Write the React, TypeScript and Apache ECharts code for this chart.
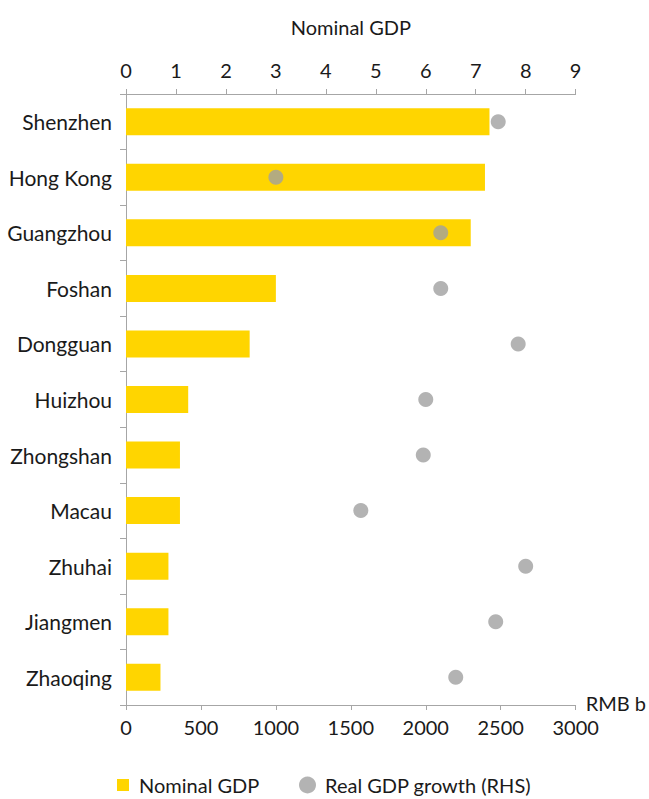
import React, { useEffect, useRef } from "react";
import * as echarts from "echarts";

const cities = [
  "Shenzhen",
  "Hong Kong",
  "Guangzhou",
  "Foshan",
  "Dongguan",
  "Huizhou",
  "Zhongshan",
  "Macau",
  "Zhuhai",
  "Jiangmen",
  "Zhaoqing",
];
const nominalGdp = [2425, 2395, 2300, 1000, 825, 415, 360, 360, 283, 283, 230];
const realGrowth = [7.45, 3.0, 6.3, 6.3, 7.85, 6.0, 5.95, 4.7, 8.0, 7.4, 6.6];
const bottomTicks = { min: 0, max: 3000, interval: 500 };
const topTicks = { min: 0, max: 9, interval: 1 };

const FONT = "Lato";
const AXIS = "#a6a6a6";
const TXT = "#1a1a1a";

export default function App() {
  const ref = useRef<HTMLDivElement>(null);
  useEffect(() => {
    if (!ref.current) return;
    const chart = echarts.init(ref.current, undefined, { renderer: "svg" });
    chart.setOption({
      animation: false,
      backgroundColor: "#ffffff",
      textStyle: { fontFamily: FONT, color: TXT },
      grid: { left: 126, right: 72, top: 94, bottom: 94, containLabel: false },
      legend: [
        {
          left: 112,
          top: 770,
          itemWidth: 12,
          itemHeight: 12,
          data: [{ name: "Nominal GDP", icon: "rect" }],
          textStyle: { fontFamily: FONT, fontSize: 20, color: TXT, padding: [0, 0, 0, 5] },
        },
        {
          left: 294,
          top: 770,
          itemWidth: 17,
          itemHeight: 17,
          data: [{ name: "Real GDP growth (RHS)", icon: "circle" }],
          textStyle: { fontFamily: FONT, fontSize: 20, color: TXT, padding: [0, 0, 0, 4] },
        },
      ],
      xAxis: [
        {
          type: "value",
          position: "bottom",
          min: bottomTicks.min,
          max: bottomTicks.max,
          interval: bottomTicks.interval,
          name: "RMB b",
          nameLocation: "end",
          nameGap: 10,
          nameTextStyle: { fontFamily: FONT, fontSize: 20, color: TXT, verticalAlign: "bottom", padding: [0, 0, -8, 0] },
          axisLine: { show: true, lineStyle: { color: AXIS, width: 1 } },
          axisTick: { show: true, length: 5, lineStyle: { color: AXIS } },
          axisLabel: { margin: 12, fontFamily: FONT, fontSize: 20, color: TXT, formatter: (v: number) => String(v) },
          splitLine: { show: false },
        },
        {
          type: "value",
          position: "top",
          min: topTicks.min,
          max: topTicks.max,
          interval: topTicks.interval,
          name: "Nominal GDP",
          nameLocation: "middle",
          nameGap: 57,
          nameTextStyle: { fontFamily: FONT, fontSize: 20, color: TXT },
          axisLine: { show: true, lineStyle: { color: AXIS, width: 1 } },
          axisTick: { show: true, length: 5, lineStyle: { color: AXIS } },
          axisLabel: { margin: 14, fontFamily: FONT, fontSize: 20, color: TXT, formatter: (v: number) => String(v) },
          splitLine: { show: false },
        },
      ],
      yAxis: {
        type: "category",
        data: cities,
        inverse: true,
        axisLine: { show: true, lineStyle: { color: AXIS, width: 1 } },
        axisTick: { show: true, length: 6, alignWithLabel: false, lineStyle: { color: AXIS } },
        axisLabel: { margin: 14, fontFamily: FONT, fontSize: 21, color: TXT },
        splitLine: { show: false },
      },
      series: [
        {
          name: "Nominal GDP",
          type: "bar",
          xAxisIndex: 0,
          data: nominalGdp,
          barWidth: 27,
          itemStyle: { color: "#ffd500" },
        },
        {
          name: "Real GDP growth (RHS)",
          type: "scatter",
          xAxisIndex: 1,
          data: realGrowth,
          symbol: "circle",
          symbolSize: 15,
          itemStyle: { color: "#a0a0a0" },
          z: 5,
        },
      ],
    });
    return () => chart.dispose();
  }, []);
  return (
    <div
      ref={ref}
      style={{ position: "fixed", left: 0, top: 0, width: 649, height: 799, background: "#fff" }}
    />
  );
}
